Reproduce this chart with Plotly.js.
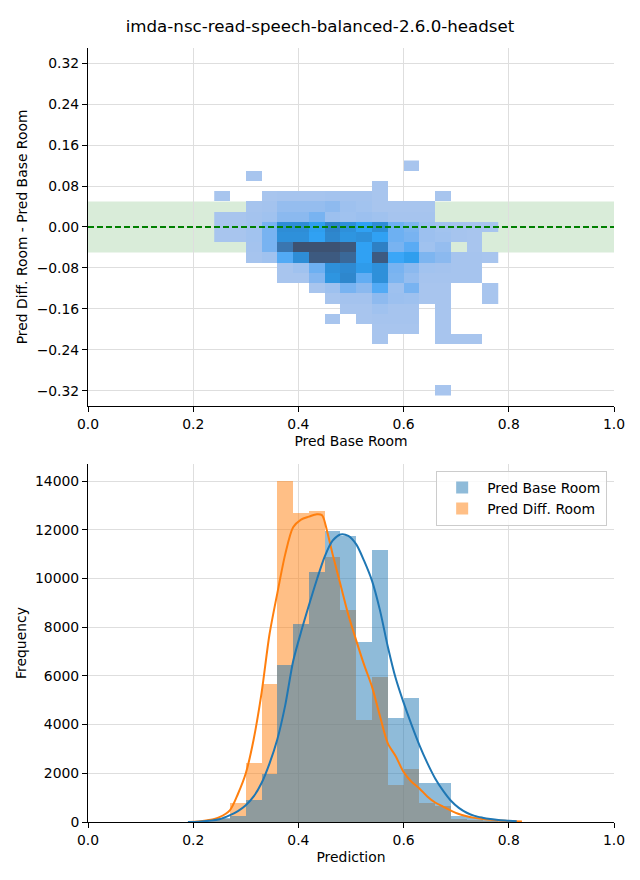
<!DOCTYPE html>
<html>
<head>
<meta charset="utf-8">
<script src="https://cdn.plot.ly/plotly-3.0.1.min.js"></script>
<style>
  html, body { margin: 0; padding: 0; background: #ffffff; }
  #chart { width: 640px; height: 880px; }
</style>
</head>
<body>
<div id="chart"></div>
<script>
// ---------- DATA ----------
const chartTitle = "imda-nsc-read-speech-balanced-2.6.0-headset";

// 2D histogram (top): bin centres
const binX2d = [0.255,0.285,0.315,0.345,0.375,0.405,0.435,0.465,0.495,0.525,0.555,0.585,0.615,0.645,0.675,0.705,0.735,0.765];
const binY2d = [0.12,0.10,0.08,0.06,0.04,0.02,0.00,-0.02,-0.04,-0.06,-0.08,-0.10,-0.12,-0.14,-0.16,-0.18,-0.20,-0.22,-0.24,-0.26,-0.28,-0.30,-0.32];
const n = null;
// relative cell counts (0-100), one row per binY2d value
const counts2d = [
  [n,n,n,n,n,n,n,n,n,n,n,n,4,n,n,n,n,n],
  [n,n,4,n,n,n,n,n,n,n,n,n,n,n,n,n,n,n],
  [n,n,n,n,n,n,n,n,n,n,4,n,n,n,n,n,n,n],
  [4,n,n,4,5,5,5,6,6,6,4,n,n,n,4,n,n,n],
  [n,n,5,6,12,12,12,14,9,7,4,4,4,4,n,n,n,n],
  [4,4,6,8,15,15,22,10,8,10,8,5,5,5,n,n,n,n],
  [4,4,7,22,60,60,48,66,58,45,60,25,20,10,7,5,4,4],
  [4,4,7,22,58,58,45,64,55,58,45,25,22,10,8,5,4,n],
  [n,n,6,22,74,97,97,97,92,45,68,22,30,8,12,n,4,n],
  [n,n,5,8,32,60,90,90,82,45,90,38,48,20,15,5,5,4],
  [n,n,n,n,4,8,25,58,62,50,58,22,15,7,6,5,5,n],
  [n,n,n,n,4,4,18,55,64,28,58,20,12,5,5,5,5,n],
  [n,n,n,n,n,n,4,9,22,15,32,9,22,4,4,n,n,4],
  [n,n,n,n,n,n,n,4,6,6,14,10,9,4,4,n,n,4],
  [n,n,n,n,n,n,n,n,4,4,8,5,5,n,4,n,n,n],
  [n,n,n,n,n,n,n,4,n,4,5,5,5,n,4,n,n,n],
  [n,n,n,n,n,n,n,n,n,n,4,4,4,n,4,n,n,n],
  [n,n,n,n,n,n,n,n,n,n,4,n,n,n,4,4,4,n],
  [n,n,n,n,n,n,n,n,n,n,n,n,n,n,n,n,n,n],
  [n,n,n,n,n,n,n,n,n,n,n,n,n,n,n,n,n,n],
  [n,n,n,n,n,n,n,n,n,n,n,n,n,n,n,n,n,n],
  [n,n,n,n,n,n,n,n,n,n,n,n,n,n,n,n,n,n],
  [n,n,n,n,n,n,n,n,n,n,n,n,n,n,4,n,n,n]
];
const bandLow = -0.05, bandHigh = 0.05;

// 1D histograms (bottom): bin centres (width 0.03)
const histBins = [0.195,0.225,0.255,0.285,0.315,0.345,0.375,0.405,0.435,0.465,0.495,0.525,0.555,0.585,0.615,0.645,0.675,0.705,0.735,0.765,0.795];
const baseCounts = [10,40,150,246,903,1970,6445,8128,10250,11946,11740,7389,11166,4256,5077,1587,1587,246,219,70,30];
const diffCounts = [15,60,110,793,2420,5665,13990,12698,12767,10866,8703,4200,5952,1506,2163,766,650,137,100,40,20];

// KDE curves (scaled to counts)
const kdeBaseX = [0.19,0.21,0.23,0.25,0.27,0.285,0.30,0.315,0.33,0.345,0.36,0.375,0.39,0.405,0.42,0.435,0.45,0.465,0.48,0.495,0.51,0.525,0.54,0.555,0.57,0.585,0.60,0.615,0.63,0.645,0.66,0.675,0.69,0.705,0.72,0.735,0.75,0.765,0.78,0.80,0.815];
const kdeBaseY = [5,15,50,110,280,450,690,1050,1600,2400,3400,4800,6600,7800,8900,9950,10900,11550,11810,11750,11400,10720,9900,8700,7200,5900,4900,4000,3160,2430,1790,1290,875,580,380,250,178,125,85,55,30];
const kdeDiffX = [0.19,0.21,0.23,0.25,0.27,0.285,0.30,0.315,0.33,0.345,0.36,0.375,0.39,0.405,0.42,0.435,0.445,0.455,0.465,0.48,0.495,0.51,0.525,0.54,0.555,0.57,0.585,0.60,0.615,0.63,0.645,0.66,0.675,0.69,0.705,0.72,0.735,0.75,0.765,0.78,0.80,0.825];
const kdeDiffY = [5,25,80,200,490,1150,2000,3400,5300,7700,9400,11000,12100,12420,12540,12640,12600,11900,11000,9750,8500,7450,6450,5550,4350,3230,2700,2050,1650,1380,1050,800,630,470,330,240,170,125,90,65,40,25];

const xTicks = [0,0.2,0.4,0.6,0.8,1.0];
const yTicksTop = [-0.32,-0.24,-0.16,-0.08,0,0.08,0.16,0.24,0.32];
const yTicksBottom = [0,2000,4000,6000,8000,10000,12000,14000];

// ---------- STYLE ----------
const FONT = "DejaVu Sans, Liberation Sans, sans-serif";
const FS = 13.9;
const blue = "#1f77b4", orange = "#ff7f0e";

const heatScale = [
  [0.00, "#b0cbee"],
  [0.04, "#a8c5ee"],
  [0.10, "#9cc0ef"],
  [0.15, "#8bb9ef"],
  [0.22, "#78b3f1"],
  [0.30, "#5aabf4"],
  [0.38, "#3aa6f7"],
  [0.46, "#2fa0f2"],
  [0.55, "#2e95e0"],
  [0.62, "#2e8ad2"],
  [0.68, "#2e80c4"],
  [0.74, "#3a76b0"],
  [0.82, "#3a6898"],
  [0.90, "#3d5a80"],
  [1.00, "#3d4e6c"]
];

const traces = [
  {
    type: "heatmap", x: binX2d, y: binY2d, z: counts2d,
    zmin: 0, zmax: 100, colorscale: heatScale, showscale: false,
    xaxis: "x", yaxis: "y", hoverinfo: "skip", zsmooth: false
  },
  {
    type: "bar", x: histBins, y: diffCounts, width: 0.03,
    marker: { color: "rgba(255,127,14,0.5)", line: { width: 0 } },
    name: "Pred Diff. Room", legendrank: 2,
    xaxis: "x2", yaxis: "y2", hoverinfo: "skip"
  },
  {
    type: "bar", x: histBins, y: baseCounts, width: 0.03,
    marker: { color: "rgba(31,119,180,0.5)", line: { width: 0 } },
    name: "Pred Base Room", legendrank: 1,
    xaxis: "x2", yaxis: "y2", hoverinfo: "skip"
  },
  {
    type: "scatter", mode: "lines", x: kdeDiffX, y: kdeDiffY,
    line: { color: orange, width: 2, shape: "spline", smoothing: 0.8 },
    showlegend: false, xaxis: "x2", yaxis: "y2", hoverinfo: "skip"
  },
  {
    type: "scatter", mode: "lines", x: kdeBaseX, y: kdeBaseY,
    line: { color: blue, width: 2, shape: "spline", smoothing: 0.8 },
    showlegend: false, xaxis: "x2", yaxis: "y2", hoverinfo: "skip"
  }
];

const axisCommon = {
  showline: true, linecolor: "#000000", linewidth: 1,
  ticks: "outside", ticklen: 5, tickwidth: 1, tickcolor: "#000000",
  showgrid: true, gridcolor: "#dedede", gridwidth: 1,
  zeroline: false, mirror: false,
  tickfont: { family: FONT, size: FS, color: "#000000" }
};

const layout = {
  width: 640, height: 880,
  paper_bgcolor: "#ffffff", plot_bgcolor: "#ffffff",
  margin: { l: 88, r: 26, t: 48, b: 58 },
  font: { family: FONT, size: FS, color: "#000000" },
  title: {
    text: chartTitle, font: { family: FONT, size: 16.67, color: "#000000" },
    x: 0.5, xref: "container", xanchor: "center",
    y: 1 - 26 / 880, yref: "container", yanchor: "middle"
  },
  barmode: "overlay",
  bargap: 0,
  showlegend: true,
  legend: {
    x: 0.987, y: 0.4535, xanchor: "right", yanchor: "top",
    bgcolor: "rgba(255,255,255,0.8)", bordercolor: "#cccccc", borderwidth: 1,
    font: { family: FONT, size: FS, color: "#000000" },
    traceorder: "normal", itemwidth: 40
  },
  xaxis: Object.assign({}, axisCommon, {
    domain: [0, 1], anchor: "y", range: [0, 1],
    tickvals: xTicks, tickformat: ".1f",
    title: { text: "Pred Base Room", font: { family: FONT, size: FS }, standoff: 5 }
  }),
  yaxis: Object.assign({}, axisCommon, {
    domain: [0.5375, 1], anchor: "x", range: [-0.35, 0.35],
    tickvals: yTicksTop, tickformat: ".2f",
    title: { text: "Pred Diff. Room - Pred Base Room", font: { family: FONT, size: FS }, standoff: 5 }
  }),
  xaxis2: Object.assign({}, axisCommon, {
    domain: [0, 1], anchor: "y2", range: [0, 1],
    tickvals: xTicks, tickformat: ".1f",
    title: { text: "Prediction", font: { family: FONT, size: FS }, standoff: 5 }
  }),
  yaxis2: Object.assign({}, axisCommon, {
    domain: [0, 0.4625], anchor: "x2", range: [0, 14700],
    tickvals: yTicksBottom, tickformat: "d",
    title: { text: "Frequency", font: { family: FONT, size: FS }, standoff: 5 }
  }),
  shapes: [
    {
      type: "rect", xref: "x", yref: "y", x0: 0, x1: 1, y0: bandLow, y1: bandHigh,
      fillcolor: "rgba(0,128,0,0.15)", line: { width: 0 }, layer: "below"
    },
    {
      type: "line", xref: "x", yref: "y", x0: 0, x1: 1, y0: 0, y1: 0,
      line: { color: "#008000", width: 2, dash: "6px,3px" }, layer: "above"
    }
  ]
};

Plotly.newPlot("chart", traces, layout, { staticPlot: true, displayModeBar: false });
</script>
</body>
</html>
